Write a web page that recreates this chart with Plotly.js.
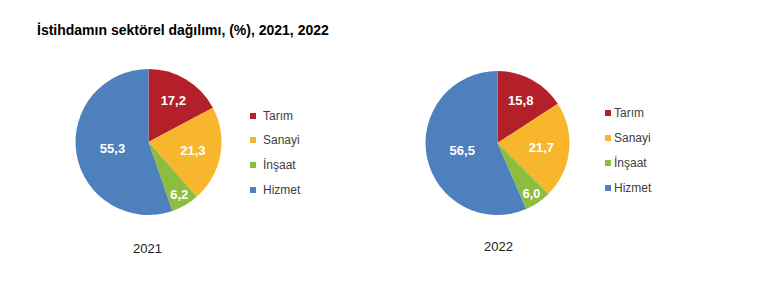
<!DOCTYPE html>
<html>
<head>
<meta charset="utf-8">
<script src="https://cdn.plot.ly/plotly-3.0.1.min.js"></script>
<style>html,body{margin:0;padding:0;background:#fff;}#chart{width:770px;height:282px;}</style>
</head>
<body>
<div id="chart"></div>
<script>
const sectors = ["Tarım", "Sanayi", "İnşaat", "Hizmet"];
const colors = ["#B3202A", "#F8B62D", "#8CBD3F", "#4E80BD"];
const values2021 = [17.2, 21.3, 6.2, 55.3];
const values2022 = [15.8, 21.7, 6.0, 56.5];
const years = ["2021", "2022"];
const titleText = "İstihdamın sektörel dağılımı, (%), 2021, 2022";

const W = 770, H = 282;
const px = (x) => x / W;
const py = (y) => 1 - y / H;

function pieTrace(values, x0, x1, y0, y1) {
  return {
    type: "pie",
    labels: sectors,
    values: values,
    sort: false,
    direction: "clockwise",
    rotation: 0,
    marker: { colors: colors, line: { width: 0 } },
    texttemplate: "%{value:.1f}",
    textposition: "inside",
    insidetextorientation: "horizontal",
    textfont: { family: "Liberation Sans, Arial, sans-serif", size: 13, color: "#ffffff", weight: "bold" },
    domain: { x: [px(x0), px(x1)], y: [py(y1), py(y0)] },
    showlegend: false,
    hoverinfo: "label+value"
  };
}

const data = [
  pieTrace(values2021, 75, 222, 69, 215),
  pieTrace(values2022, 425, 570, 71, 215)
];

const annotations = [];
const shapes = [];
const legendPos = [
  { sx: 250, tx: 261, ys: [116, 140, 165, 190] },
  { sx: 605, tx: 612, ys: [113, 138, 163, 188] }
];
legendPos.forEach((lp) => {
  sectors.forEach((s, i) => {
    const y = lp.ys[i];
    shapes.push({
      type: "rect", xref: "paper", yref: "paper",
      x0: px(lp.sx), x1: px(lp.sx + 6), y0: py(y + 3), y1: py(y - 3),
      fillcolor: colors[i], line: { width: 0 }
    });
    annotations.push({
      text: s, xref: "paper", yref: "paper",
      x: px(lp.tx), y: py(y), xanchor: "left", yanchor: "middle",
      showarrow: false,
      font: { family: "Liberation Sans, Arial, sans-serif", size: 12, color: "#404040" }
    });
  });
});

const yearPos = [{ x: 147, y: 248 }, { x: 498, y: 246 }];
years.forEach((yr, i) => {
  annotations.push({
    text: yr, xref: "paper", yref: "paper",
    x: px(yearPos[i].x), y: py(yearPos[i].y), xanchor: "center", yanchor: "middle",
    showarrow: false,
    font: { family: "Liberation Sans, Arial, sans-serif", size: 13, color: "#222222" }
  });
});

const layout = {
  width: W, height: H,
  margin: { l: 0, r: 0, t: 0, b: 0 },
  paper_bgcolor: "#ffffff",
  separators: ",.",
  title: {
    text: "<b>" + titleText + "</b>",
    x: px(37), xanchor: "left",
    y: 1 - 30 / H, yanchor: "middle",
    font: { family: "Liberation Sans, Arial, sans-serif", size: 14, color: "#000000" }
  },
  annotations: annotations,
  shapes: shapes
};

Plotly.newPlot("chart", data, layout, { displayModeBar: false, staticPlot: true });
</script>
</body>
</html>
